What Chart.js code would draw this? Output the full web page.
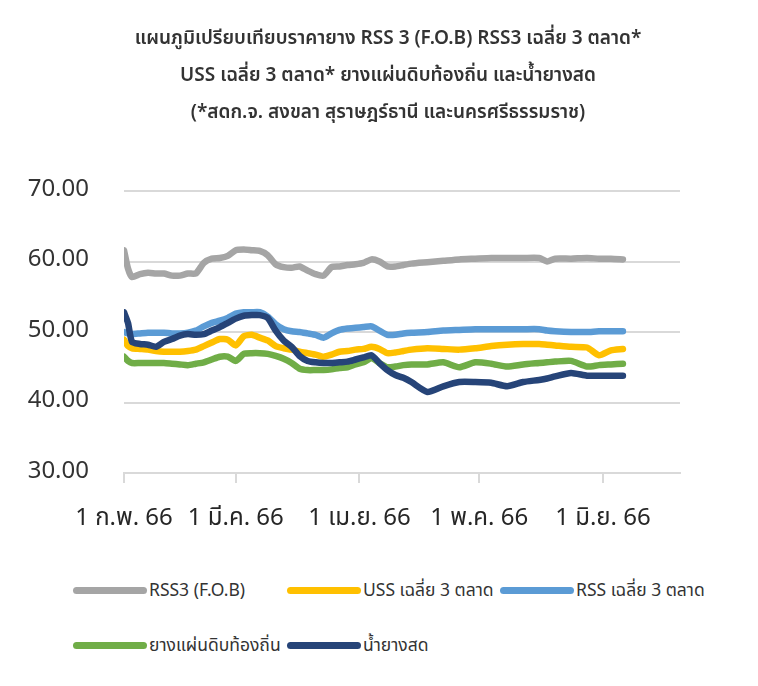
<!DOCTYPE html>
<html lang="th">
<head>
    <meta charset="UTF-8">
    <title>ราคายาง</title>
    <script src="https://cdn.jsdelivr.net/npm/chart.js"></script>
    <style>
        body { margin: 0; background: #fff; font-family: 'Noto Sans Thai', 'Noto Sans', sans-serif; }
        #wrap { position: relative; width: 758px; height: 686px; }
        #title { position: absolute; left: 88px; width: 600px; top: 20px; text-align: center;
                 font-size: 19px; font-weight: 600; line-height: 37px; color: #333; }
        #box { position: absolute; left: 0; top: 0; width: 704px; height: 550px; }
        #legend { position: absolute; left: 73px; top: 576px; display: grid;
                  grid-template-columns: 214px 213px auto; row-gap: 26px; }
        .item { display: flex; align-items: center; height: 29px; font-size: 17.5px; color: #333; }
        .bar { display: inline-block; width: 74px; height: 7px; border-radius: 4px; margin-right: 2px; }
    </style>
</head>
<body>
<div id="wrap">
    <div id="box"><canvas id="chart"></canvas></div>
    <div id="title"></div>
    <div id="legend"></div>
</div>

<script>
    // วันนับจาก 1 ก.พ. 66
    var days = [0, 1, 2, 4, 6, 8, 10, 12, 14, 16, 18, 20, 22, 24, 26, 28, 30, 32, 34, 36, 38, 40, 42, 44, 46, 48,
                50, 52, 54, 56, 58, 60, 62, 64, 66, 68, 70, 72, 76, 80, 84, 88, 92, 96, 100, 104, 106, 108,
                112, 116, 119, 122, 125];

    var rss3Fob = [61.6, 59.0, 57.8, 58.2, 58.4, 58.3, 58.3, 58.0, 58.0, 58.3, 58.3, 59.8, 60.4, 60.5, 60.8, 61.6,
                   61.7, 61.6, 61.5, 60.9, 59.6, 59.2, 59.1, 59.3, 58.7, 58.2, 58.0, 59.2, 59.3, 59.5, 59.6, 59.8,
                   60.3, 60.0, 59.3, 59.3, 59.5, 59.7, 59.9, 60.1, 60.3, 60.4, 60.5, 60.5, 60.5, 60.5, 60.0, 60.4,
                   60.4, 60.5, 60.4, 60.4, 60.3];
    var uss3 = [48.9, 48.0, 47.7, 47.6, 47.5, 47.3, 47.2, 47.2, 47.2, 47.3, 47.5, 48.0, 48.5, 49.0, 48.9, 48.1,
                49.4, 49.6, 49.2, 48.8, 48.0, 47.7, 47.5, 47.2, 47.0, 46.8, 46.5, 46.8, 47.2, 47.3, 47.5, 47.6,
                47.9, 47.6, 47.0, 47.1, 47.3, 47.5, 47.7, 47.6, 47.5, 47.7, 48.0, 48.2, 48.3, 48.3, 48.2, 48.1,
                47.9, 47.8, 46.7, 47.4, 47.6];
    var rss3Avg = [50.0, 49.8, 49.7, 49.8, 49.9, 49.9, 49.9, 49.8, 49.8, 49.9, 50.2, 50.8, 51.3, 51.6, 52.0, 52.6,
                   52.8, 52.8, 52.8, 52.2, 51.1, 50.4, 50.1, 50.0, 49.8, 49.6, 49.2, 49.8, 50.3, 50.5, 50.6, 50.7,
                   50.8, 50.2, 49.6, 49.6, 49.8, 49.9, 50.0, 50.2, 50.3, 50.4, 50.4, 50.4, 50.4, 50.4, 50.2, 50.1,
                   50.0, 50.0, 50.1, 50.1, 50.1];
    var localSheet = [46.5, 45.9, 45.6, 45.6, 45.6, 45.6, 45.6, 45.5, 45.4, 45.3, 45.5, 45.7, 46.1, 46.5, 46.5, 45.9,
                      46.9, 47.0, 47.0, 46.9, 46.6, 46.2, 45.6, 44.8, 44.6, 44.6, 44.6, 44.7, 44.9, 45.0, 45.4, 45.7,
                      46.3, 45.6, 45.0, 45.1, 45.3, 45.4, 45.4, 45.7, 45.0, 45.7, 45.5, 45.1, 45.4, 45.6, 45.7, 45.8,
                      45.9, 45.1, 45.3, 45.4, 45.5];
    var latex = [52.8, 51.3, 48.6, 48.3, 48.2, 47.9, 48.6, 49.0, 49.5, 49.7, 49.6, 49.7, 50.2, 50.7, 51.3, 51.9,
                 52.3, 52.4, 52.4, 52.0, 50.2, 48.8, 47.9, 46.6, 45.9, 45.7, 45.6, 45.6, 45.7, 45.8, 46.1, 46.4,
                 46.7, 45.6, 44.6, 43.9, 43.5, 42.9, 41.5, 42.3, 42.9, 42.9, 42.8, 42.3, 42.9, 43.2, 43.4, 43.7,
                 44.2, 43.8, 43.8, 43.8, 43.8];

    var seriesNames = ['RSS3 (F.O.B)', 'USS เฉลี่ย 3 ตลาด', 'RSS เฉลี่ย 3 ตลาด', 'ยางแผ่นดิบท้องถิ่น', 'น้ำยางสด'];
    var seriesColors = ['#a5a5a5', '#ffc000', '#5b9bd5', '#70ad47', '#264478'];
    var seriesValues = [rss3Fob, uss3, rss3Avg, localSheet, latex];
    var drawOrder = [4, 3, 2, 1, 0];

    var monthTicks = [0, 28, 59, 89, 120];
    var monthLabels = ['1 ก.พ. 66', '1 มี.ค. 66', '1 เม.ย. 66', '1 พ.ค. 66', '1 มิ.ย. 66'];
    var yTicks = [30, 40, 50, 60, 70];

    var titleLines = ['แผนภูมิเปรียบเทียบราคายาง RSS 3 (F.O.B) RSS3 เฉลี่ย 3 ตลาด*',
                      'USS เฉลี่ย 3 ตลาด* ยางแผ่นดิบท้องถิ่น และน้ำยางสด',
                      '(*สดก.จ. สงขลา สุราษฎร์ธานี และนครศรีธรรมราช)'];

    var fontFamily = "'Noto Sans Thai', 'Noto Sans', sans-serif";

    // หัวกราฟ
    var titleBox = document.getElementById('title');
    titleLines.forEach(function (t, i) {
        if (i > 0) titleBox.appendChild(document.createElement('br'));
        titleBox.appendChild(document.createTextNode(t));
    });

    var datasets = seriesNames.map(function (name, i) {
        return {
            label: name,
            data: days.map(function (d, j) { return { x: d, y: seriesValues[i][j] }; }),
            borderColor: seriesColors[i],
            backgroundColor: seriesColors[i],
            borderWidth: 6.5,
            pointRadius: 0,
            tension: 0.2,
            borderCapStyle: 'round',
            borderJoinStyle: 'round',
            order: drawOrder[i]
        };
    });

    var ctx = document.getElementById('chart').getContext('2d');
    var chart = new Chart(ctx, {
        type: 'line',
        data: { datasets: datasets },
        options: {
            responsive: true,
            maintainAspectRatio: false,
            animation: false,
            layout: { padding: { left: 24, right: 24, top: 191, bottom: 17 } },
            plugins: {
                legend: { display: false },
                tooltip: { enabled: false },
                title: { display: false }
            },
            scales: {
                x: {
                    type: 'linear',
                    min: 0,
                    max: 139.3,
                    afterBuildTicks: function (axis) {
                        axis.ticks = monthTicks.map(function (v) { return { value: v }; });
                    },
                    afterFit: function (axis) { axis.height = 60; },
                    ticks: {
                        autoSkip: false,
                        maxRotation: 0,
                        padding: 23,
                        color: '#262626',
                        font: { family: fontFamily, size: 24 },
                        callback: function (v) { return monthLabels[monthTicks.indexOf(v)]; }
                    },
                    grid: { drawOnChartArea: false, drawTicks: true, tickLength: 10, color: '#d9d9d9', lineWidth: 2 },
                    border: { color: '#d9d9d9', width: 2 }
                },
                y: {
                    min: 30,
                    max: 70,
                    afterBuildTicks: function (axis) {
                        axis.ticks = yTicks.map(function (v) { return { value: v }; });
                    },
                    afterFit: function (axis) { axis.width = 100; },
                    ticks: {
                        padding: 35,
                        color: '#333',
                        font: { family: fontFamily, size: 24 },
                        callback: function (v) { return v.toFixed(2); }
                    },
                    grid: { color: '#d9d9d9', lineWidth: 2, drawTicks: false },
                    border: { display: false }
                }
            }
        }
    });

    // legend แบบ HTML สร้างจาก dataset ของกราฟ
    var legendBox = document.getElementById('legend');
    chart.data.datasets.forEach(function (ds) {
        var item = document.createElement('div');
        item.className = 'item';
        var bar = document.createElement('span');
        bar.className = 'bar';
        bar.style.background = ds.borderColor;
        item.appendChild(bar);
        item.appendChild(document.createTextNode(ds.label));
        legendBox.appendChild(item);
    });
</script>
</body>
</html>
